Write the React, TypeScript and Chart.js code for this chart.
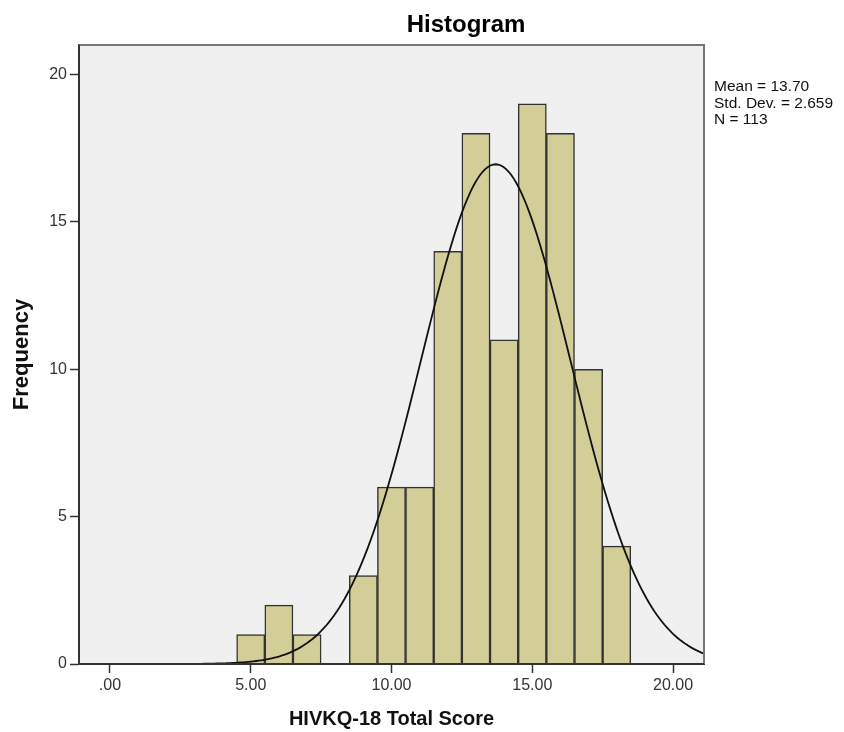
import React, { useEffect, useRef } from "react";
import { Chart, registerables } from "chart.js";

Chart.register(...registerables);

const binCenters = [5, 6, 7, 8, 9, 10, 11, 12, 13, 14, 15, 16, 17, 18];
const frequencies = [1, 2, 1, 0, 3, 6, 6, 14, 18, 11, 19, 18, 10, 4];
const xTickValues = [0, 5, 10, 15, 20];
const xTickLabels = [".00", "5.00", "10.00", "15.00", "20.00"];
const yTickValues = [0, 5, 10, 15, 20];
const statLines = ["Mean = 13.70", "Std. Dev. = 2.659", "N = 113"];
const MEAN = 13.7;
const SD = 2.659;
const N = 113;
const BIN_WIDTH = 1;
const X_MIN = -1.1;
const X_MAX = 21.1;

const FONT = "'Liberation Sans', Arial, sans-serif";

function normalCurve() {
  const pts: { x: number; y: number }[] = [];
  const steps = 240;
  for (let i = 0; i <= steps; i++) {
    const x = X_MIN + ((X_MAX - X_MIN) * i) / steps;
    const z = (x - MEAN) / SD;
    const y = (N * BIN_WIDTH) / (SD * Math.sqrt(2 * Math.PI)) * Math.exp(-0.5 * z * z);
    pts.push({ x, y });
  }
  return pts;
}

const decorPlugin = {
  id: "decor",
  beforeDraw(chart: any) {
    const { ctx, chartArea } = chart;
    ctx.save();
    ctx.fillStyle = "#f0f0f0";
    ctx.fillRect(chartArea.left, chartArea.top, chartArea.right - chartArea.left, chartArea.bottom - chartArea.top);
    ctx.restore();
  },
  afterDraw(chart: any) {
    const { ctx, chartArea } = chart;
    ctx.save();
    ctx.strokeStyle = "#777";
    ctx.lineWidth = 2;
    ctx.beginPath();
    ctx.moveTo(chartArea.left, chartArea.top);
    ctx.lineTo(chartArea.right, chartArea.top);
    ctx.lineTo(chartArea.right, chartArea.bottom);
    ctx.stroke();
    ctx.strokeStyle = "#333";
    ctx.beginPath();
    ctx.moveTo(chartArea.left, chartArea.top);
    ctx.lineTo(chartArea.left, chartArea.bottom);
    ctx.lineTo(chartArea.right, chartArea.bottom);
    ctx.stroke();

    ctx.fillStyle = "#000";
    ctx.font = `bold 24px ${FONT}`;
    ctx.textAlign = "center";
    ctx.textBaseline = "middle";
    ctx.fillText("Histogram", 466, 25);

    ctx.font = `15.5px ${FONT}`;
    ctx.textAlign = "left";
    ctx.fillStyle = "#111";
    statLines.forEach((s, i) => {
      ctx.fillText(s, chartArea.right + 10, 87 + i * 16.5);
    });
    ctx.restore();
  },
};

export default function App() {
  const ref = useRef<HTMLCanvasElement>(null);
  useEffect(() => {
    if (!ref.current) return;
    const chart = new Chart(ref.current, {
      type: "bar",
      data: {
        datasets: [
          {
            type: "line",
            data: normalCurve(),
            borderColor: "#111",
            borderWidth: 1.8,
            pointRadius: 0,
            tension: 0,
            order: 0,
          } as any,
          {
            type: "bar",
            data: binCenters.map((x, i) => ({ x, y: frequencies[i] })),
            backgroundColor: "#d3ce98",
            borderColor: "#333",
            borderWidth: 1.5,
            barPercentage: 1,
            categoryPercentage: 1,
            order: 1,
          } as any,
        ],
      },
      options: {
        responsive: false,
        animation: false,
        devicePixelRatio: 1,
        layout: { padding: { top: 45, right: 140, left: 0, bottom: 0 } },
        plugins: {
          legend: { display: false },
          tooltip: { enabled: false },
          title: { display: false },
        },
        scales: {
          x: {
            type: "linear",
            min: X_MIN,
            max: X_MAX,
            offset: false,
            afterBuildTicks: (s: any) => {
              s.ticks = xTickValues.map((v) => ({ value: v }));
            },
            afterFit: (s: any) => {
              s.height = 68;
            },
            ticks: {
              callback: (v: any) => {
                const i = xTickValues.indexOf(Number(v));
                return i >= 0 ? xTickLabels[i] : "";
              },
              font: { family: FONT, size: 16 },
              color: "#333",
              padding: 3,
              maxRotation: 0,
            },
            grid: { offset: false, drawOnChartArea: false, tickLength: 9, tickColor: "#333", tickWidth: 1.5 },
            border: { display: true, color: "#333", width: 2 },
            title: {
              display: true,
              text: "HIVKQ-18 Total Score",
              font: { family: FONT, size: 20, weight: "bold" },
              color: "#111",
              padding: { top: 0, bottom: 1 },
            },
          },
          y: {
            type: "linear",
            min: 0,
            max: 21,
            afterBuildTicks: (s: any) => {
              s.ticks = yTickValues.map((v) => ({ value: v }));
            },
            afterFit: (s: any) => {
              s.width = 79;
            },
            ticks: {
              font: { family: FONT, size: 16 },
              color: "#333",
              padding: 3,
            },
            grid: { drawOnChartArea: false, tickLength: 9, tickColor: "#333", tickWidth: 1.5 },
            border: { display: true, color: "#333", width: 2 },
            title: {
              display: true,
              text: "Frequency",
              font: { family: FONT, size: 22, weight: "bold" },
              color: "#111",
              padding: { top: 9, bottom: 0 },
            },
          },
        },
      },
      plugins: [decorPlugin],
    } as any);
    return () => chart.destroy();
  }, []);
  return (
    <div style={{ position: "absolute", left: 0, top: 0, width: 844, height: 732, background: "#fff" }}>
      <canvas ref={ref} width={844} height={732} />
    </div>
  );
}
